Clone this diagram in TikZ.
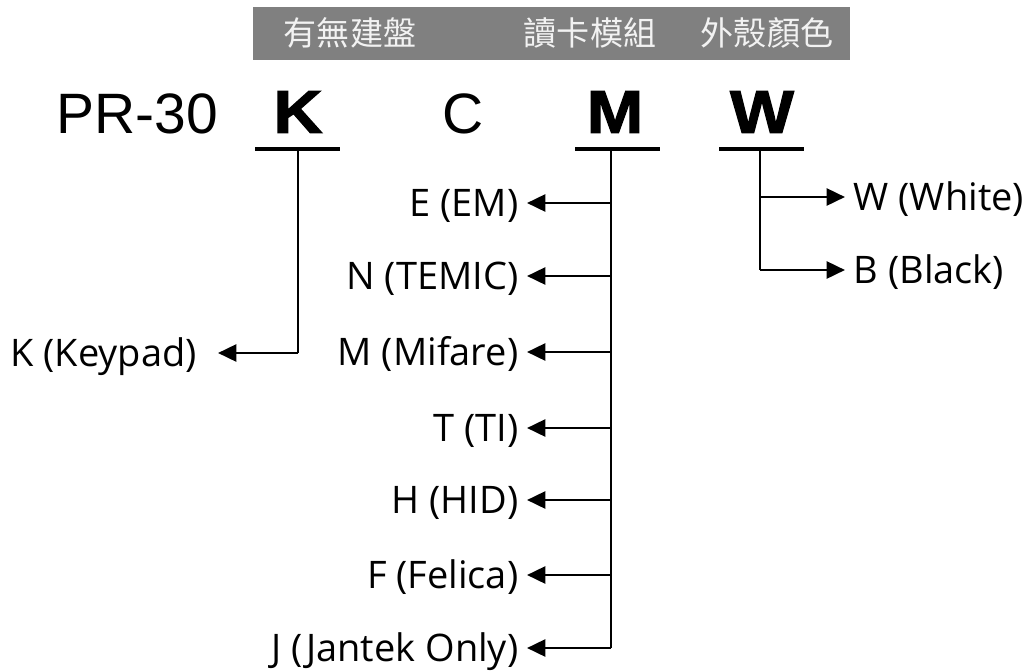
\documentclass[tikz,border=0pt]{standalone}
\usepackage{fontspec}
\setmainfont{Liberation Sans}
\newfontfamily\labfont{Open Sans}
\newfontfamily\heavy[FakeBold=2,FakeStretch=1.12]{Liberation Sans Bold}
\newfontfamily\cjk{Noto Sans CJK TC}
\usetikzlibrary{arrows.meta}
\definecolor{bargray}{HTML}{808080}
\tikzset{
  code/.style={font=\fontsize{40.5}{40.5}\selectfont, inner sep=0pt},
  field/.style={font=\heavy\fontsize{43}{43}\selectfont, inner sep=0pt},
  head/.style={font=\cjk\fontsize{23.5}{23.5}\selectfont, text=white!95!black, inner sep=0pt},
  opt/.style={font=\labfont\fontsize{27}{27}\selectfont, inner ysep=0pt, inner xsep=6pt,
    text height=26pt, text depth=6.5pt},
  bar/.style={line width=3.2pt},
  wire/.style={line width=2pt},
  pick/.style={wire, -{Triangle[length=13pt,width=12pt]}},
}
\begin{document}
\begin{tikzpicture}[x=0.025cm, y=-0.025cm]
\useasboundingbox (0,0) rectangle (1035,672);

% header
\fill[bargray] (253,7) rectangle (850,60);
\node[head] (h1) at (350,33) {有無建盤};
\node[head] (h2) at (590,33) {讀卡模組};
\node[head] (h3) at (767,33) {外殼顏色};

% model code
\node[code] (pr) at (137,114) {PR-30};
\node[field] (K) at (298,112) {K};
\node[code] (C) at (463,114) {C};
\node[field] (M) at (615,112) {M};
\node[field] (W) at (762,112) {W};

\draw[bar] (255,149) -- (340,149);
\draw[bar] (575,149) -- (660,149);
\draw[bar] (719,149) -- (804,149);

% keypad
\coordinate (k0) at (298,149);
\coordinate (k1) at (298,353);
\node[opt, anchor=east, inner xsep=15pt] (key) at (218,353) {K (Keypad)};
\draw[wire] (k0) -- (k1);
\draw[pick] (k1) -- (key);

% reader module
\coordinate (m0) at (611,149);
\coordinate (m1) at (611,203);
\coordinate (m2) at (611,276);
\coordinate (m3) at (611,352);
\coordinate (m4) at (611,428);
\coordinate (m5) at (611,500);
\coordinate (m6) at (611,575);
\coordinate (m7) at (611,648);
\node[opt, anchor=east] (em) at (527,203) {E (EM)};
\node[opt, anchor=east] (temic) at (527,276) {N (TEMIC)};
\node[opt, anchor=east] (mifare) at (527,352) {M (Mifare)};
\node[opt, anchor=east] (ti) at (527,428) {T (TI)};
\node[opt, anchor=east] (hid) at (527,500) {H (HID)};
\node[opt, anchor=east] (felica) at (527,575) {F (Felica)};
\node[opt, anchor=east] (jantek) at (527,648) {J (Jantek Only)};
\draw[wire] (m0) -- (m7);
\draw[pick] (m1) -- (em);
\draw[pick] (m2) -- (temic);
\draw[pick] (m3) -- (mifare);
\draw[pick] (m4) -- (ti);
\draw[pick] (m5) -- (hid);
\draw[pick] (m6) -- (felica);
\draw[pick] (m7) -- (jantek);

% housing colour
\coordinate (w0) at (760,149);
\coordinate (w1) at (760,197);
\coordinate (w2) at (760,270);
\node[opt, anchor=west] (white) at (845,197) {W (White)};
\node[opt, anchor=west] (black) at (845,270) {B (Black)};
\draw[wire] (w0) -- (w2);
\draw[pick] (w1) -- (white);
\draw[pick] (w2) -- (black);
\end{tikzpicture}
\end{document}
